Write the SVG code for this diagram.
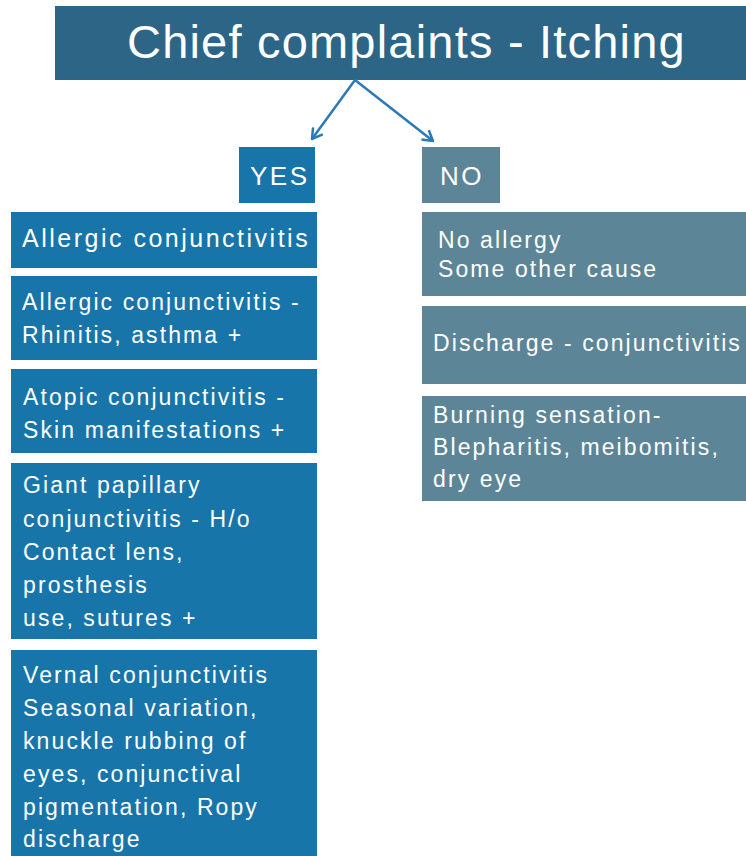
<svg xmlns="http://www.w3.org/2000/svg" width="746" height="856" viewBox="0 0 746 856">
<defs>
<style>
.title{fill:#2d6587}
.yes{fill:#1875aa}
.no{fill:#5c8697}
text{font-family:"Liberation Sans",Arial,sans-serif;fill:#ffffff}
.t{font-size:47px;letter-spacing:1.2px}
.h{font-size:26px;letter-spacing:2.5px}
.b{font-size:23px;letter-spacing:2.1px}
.b1{font-size:25px;letter-spacing:2.5px}
.conn{stroke:#2a7ab8;stroke-width:2.5;fill:none}
</style>
<marker id="arr" viewBox="0 0 12 14" refX="11" refY="7" markerWidth="12" markerHeight="14" markerUnits="userSpaceOnUse" orient="auto">
<path d="M1,1 L11,7 L1,13" stroke="#2a7ab8" stroke-width="2.5" fill="none"/>
</marker>
</defs>
<rect width="746" height="856" fill="#ffffff"/>

<g id="title">
<rect class="title" x="55" y="6" width="691" height="74"/>
<text class="t" x="127" y="58">Chief complaints - Itching</text>
</g>

<g id="connectors">
<line class="conn" x1="355" y1="80" x2="312" y2="139" marker-end="url(#arr)"/>
<line class="conn" x1="355" y1="80" x2="433" y2="141" marker-end="url(#arr)"/>
</g>

<g id="yes">
<rect class="yes" x="239" y="147" width="76" height="56"/>
<text class="h" x="250" y="185">YES</text>
</g>

<g id="no">
<rect class="no" x="422" y="147" width="78" height="56"/>
<text class="h" x="440" y="185">NO</text>
</g>

<g id="y1">
<rect class="yes" x="11" y="212" width="306" height="56"/>
<text class="b1" x="22" y="247">Allergic conjunctivitis</text>
</g>

<g id="y2">
<rect class="yes" x="11" y="276" width="306" height="84"/>
<text class="b" x="22" y="310">Allergic conjunctivitis -</text>
<text class="b" x="22" y="343">Rhinitis, asthma +</text>
</g>

<g id="y3">
<rect class="yes" x="11" y="369" width="306" height="84"/>
<text class="b" x="23" y="405">Atopic conjunctivitis -</text>
<text class="b" x="23" y="438">Skin manifestations +</text>
</g>

<g id="y4">
<rect class="yes" x="11" y="463" width="306" height="176"/>
<text class="b" x="23" y="493">Giant papillary</text>
<text class="b" x="23" y="527">conjunctivitis - H/o</text>
<text class="b" x="23" y="560">Contact lens,</text>
<text class="b" x="23" y="593">prosthesis</text>
<text class="b" x="23" y="626">use, sutures +</text>
</g>

<g id="y5">
<rect class="yes" x="11" y="650" width="306" height="206"/>
<text class="b" x="23" y="683">Vernal conjunctivitis</text>
<text class="b" x="23" y="716">Seasonal variation,</text>
<text class="b" x="23" y="749">knuckle rubbing of</text>
<text class="b" x="23" y="782">eyes, conjunctival</text>
<text class="b" x="23" y="815">pigmentation, Ropy</text>
<text class="b" x="23" y="847">discharge</text>
</g>

<g id="n1">
<rect class="no" x="422" y="212" width="324" height="84"/>
<text class="b" x="438" y="248">No allergy</text>
<text class="b" x="438" y="277">Some other cause</text>
</g>

<g id="n2">
<rect class="no" x="422" y="306" width="324" height="78"/>
<text class="b" x="433" y="351">Discharge - conjunctivitis</text>
</g>

<g id="n3">
<rect class="no" x="422" y="396" width="324" height="105"/>
<text class="b" x="433" y="423">Burning sensation-</text>
<text class="b" x="433" y="455">Blepharitis, meibomitis,</text>
<text class="b" x="433" y="487">dry eye</text>
</g>
</svg>
